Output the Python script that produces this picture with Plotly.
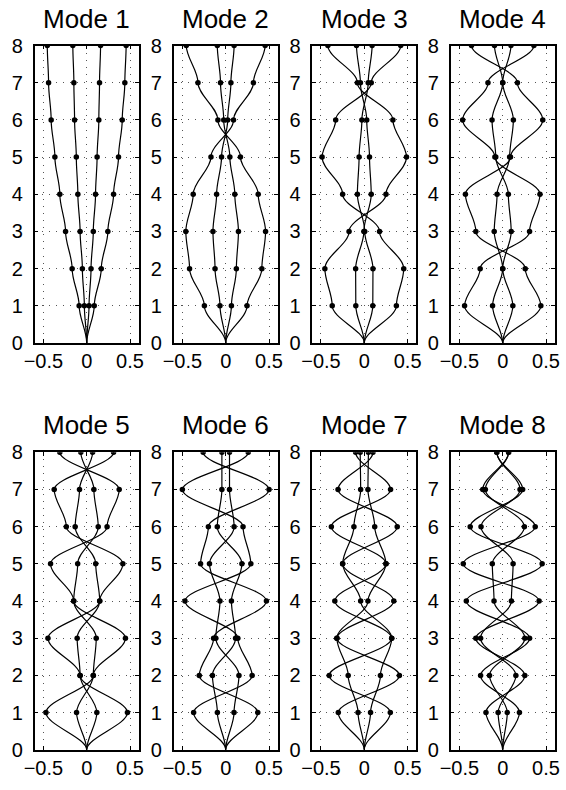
import plotly.graph_objects as go

# floors of the 8-storey frame (floor 0 is the fixed base, displacement 0)
levels = [1, 2, 3, 4, 5, 6, 7, 8]
mode_titles = ["Mode 1", "Mode 2", "Mode 3", "Mode 4",
               "Mode 5", "Mode 6", "Mode 7", "Mode 8"]

# two shapes per mode, read at floors 1..8; each is drawn as +shape and -shape
mode1_a = [0.087, 0.168, 0.244, 0.31, 0.367, 0.41, 0.44, 0.455]
mode1_b = [0.027, 0.05, 0.076, 0.102, 0.12, 0.14, 0.148, 0.16]
mode2_a = [0.246, 0.417, 0.46, 0.375, 0.17, -0.09, -0.32, -0.455]
mode2_b = [0.066, 0.123, 0.147, 0.105, 0.048, -0.023, -0.06, -0.097]
mode3_a = [0.37, 0.455, 0.176, -0.25, -0.487, -0.33, 0.08, 0.42]
mode3_b = [0.098, 0.1, 0.005, -0.08, -0.06, -0.028, 0.045, 0.09]
mode4_a = [0.44, 0.26, -0.31, -0.43, 0.09, 0.462, 0.17, -0.36]
mode4_b = [0.117, 0.0, -0.098, -0.065, 0.08, 0.123, 0.0, -0.095]
mode5_a = [0.47, -0.076, -0.447, 0.15, 0.417, -0.235, -0.375, 0.31]
mode5_b = [0.117, -0.076, -0.11, 0.15, 0.104, -0.133, -0.083, 0.068]
mode6_a = [0.37, -0.305, -0.14, 0.47, -0.29, -0.2, 0.5, -0.26]
mode6_b = [0.096, 0.153, -0.114, -0.066, -0.187, 0.097, 0.044, 0.044]
mode7_a = [0.3, -0.405, 0.316, -0.042, -0.25, 0.38, -0.303, 0.1]
mode7_b = [-0.072, -0.186, -0.316, 0.34, -0.25, -0.12, -0.042, -0.047]
mode8_a = [0.193, -0.255, 0.31, -0.42, 0.455, -0.375, 0.23, -0.068]
mode8_b = [-0.053, 0.152, -0.255, 0.1, 0.12, -0.25, 0.2, -0.068]

shapes_a = [mode1_a, mode2_a, mode3_a, mode4_a, mode5_a, mode6_a, mode7_a, mode8_a]
shapes_b = [mode1_b, mode2_b, mode3_b, mode4_b, mode5_b, mode6_b, mode7_b, mode8_b]

x_ticks = [-0.5, 0, 0.5]
x_tick_text = ["\u22120.5", "0", "0.5"]
y_ticks = [0, 1, 2, 3, 4, 5, 6, 7, 8]

# page geometry (pixels)
W, H = 566, 790
col_left = [34.7, 173.7, 312.3, 450.7]
ax_w = 104
row_top = [45.5, 452.3]
ax_h = 297.5
title_y = [19, 425]

font = "Liberation Sans, Arial, sans-serif"

fig = go.Figure()

for k in range(8):
    r, c = divmod(k, 4)
    n = "" if k == 0 else str(k + 1)
    xa, ya = "x" + n, "y" + n
    x0 = col_left[c] / W
    x1 = (col_left[c] + ax_w) / W
    y1 = 1 - row_top[r] / H
    y0 = 1 - (row_top[r] + ax_h) / H

    common = dict(showgrid=True, gridcolor="#555555", gridwidth=1, griddash="1px,6px",
                  zeroline=False, showline=True, linecolor="black", linewidth=1.5,
                  mirror="ticks", ticks="inside", ticklen=4, tickcolor="black",
                  automargin=False,
                  tickfont=dict(family=font, size=20, color="black"), fixedrange=True)
    fig.layout["xaxis" + n] = dict(domain=[x0, x1], anchor=ya, range=[-0.6, 0.6],
                                   tickvals=x_ticks, ticktext=x_tick_text,
                                   ticklabelstandoff=-1, **common)
    fig.layout["yaxis" + n] = dict(domain=[y0, y1], anchor=xa, range=[0, 8],
                                   tickvals=y_ticks, ticklabelstandoff=6, **common)

    # column between floors: cubic with vertical tangents at each floor
    for vals in (shapes_a[k], shapes_b[k]):
        for sign in (1, -1):
            xs = [0] + [sign * v for v in vals]
            ys = [0] + levels
            path = f"M {xs[0]},{ys[0]}"
            for i in range(len(levels)):
                dy = (ys[i + 1] - ys[i]) / 3
                path += (f" C {xs[i]},{ys[i] + dy} {xs[i + 1]},{ys[i + 1] - dy}"
                         f" {xs[i + 1]},{ys[i + 1]}")
            fig.add_shape(type="path", path=path, xref=xa, yref=ya,
                          line=dict(color="black", width=1.2), layer="above")

    px, py = [], []
    for vals in (shapes_a[k], shapes_b[k]):
        for sign in (1, -1):
            px += [sign * v for v in vals]
            py += levels
    fig.add_trace(go.Scatter(x=px, y=py, xaxis=xa, yaxis=ya, mode="markers",
                             marker=dict(size=5.5, color="black"),
                             hoverinfo="skip", showlegend=False))

    fig.add_annotation(text=mode_titles[k], xref="paper", yref="paper",
                       x=(x0 + x1) / 2, y=1 - title_y[r] / H,
                       xanchor="center", yanchor="middle", showarrow=False,
                       font=dict(family=font, size=26, color="black"))

fig.update_layout(width=W, height=H, margin=dict(l=0, r=0, t=0, b=0, autoexpand=False),
                  paper_bgcolor="white", plot_bgcolor="white", showlegend=False)

# drop the browser's default 8px body margin so the figure sits at the page corner
fig.write_html("out.html", config={"displayModeBar": False},
               post_script="document.body.style.margin = '0px';")
